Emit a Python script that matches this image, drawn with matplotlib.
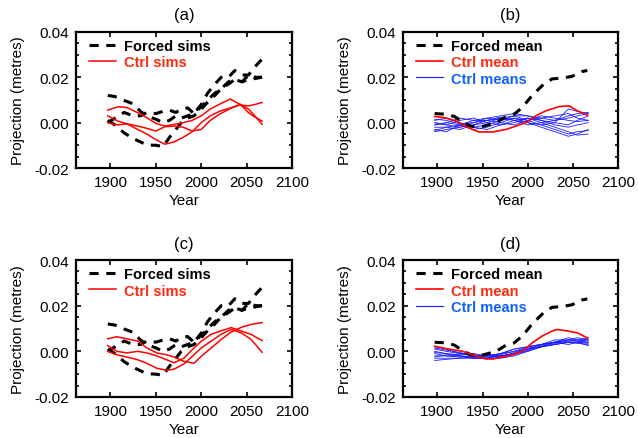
import numpy as np
import matplotlib.pyplot as plt
from matplotlib.lines import Line2D
from matplotlib.ticker import MultipleLocator, FormatStrFormatter

plt.rcParams['font.family'] = ['Liberation Sans', 'DejaVu Sans']
plt.rcParams['font.size'] = 10

# --- forced simulations (same in a and c) ---
forced_yr = [1897, 1905, 1915, 1925, 1933, 1940, 1950, 1958, 1965, 1972, 1978, 1985,
             1992, 2000, 2007, 2015, 2022, 2030, 2037, 2045, 2052, 2060, 2067]
forced_1 = [0.012, 0.0115, 0.0098, 0.0083, 0.005, 0.003, 0.0015, 0.000, 0.001, 0.003,
            0.002, 0.003, 0.004, 0.008, 0.013, 0.017, 0.020, 0.020, 0.023, 0.021, 0.021,
            0.025, 0.028]
forced_2 = [0.000, 0.002, 0.0045, 0.003, 0.003, 0.0045, 0.004, 0.005, 0.0055, 0.0045,
            0.006, 0.0065, 0.004, 0.007, 0.010, 0.013, 0.015, 0.018, 0.019, 0.018, 0.019,
            0.0195, 0.020]
forced_3 = [0.001, -0.001, -0.0045, -0.007, -0.0085, -0.0098, -0.010, -0.0105, -0.0065,
            -0.003, 0.000, 0.002, 0.003, 0.006, 0.009, 0.012, 0.015, 0.017, 0.019, 0.018,
            0.021, 0.020, 0.020]

# --- control simulations, panel a ---
ctrl_a_yr = [1897, 1908, 1918, 1930, 1940, 1950, 1960, 1970, 1980, 1990, 2000, 2010,
             2020, 2032, 2043, 2052, 2059, 2067]
ctrl_a_1 = [0.0055, 0.007, 0.0067, 0.0044, 0.0022, -0.0003, -0.0015, -0.0008, 0.000,
            0.001, 0.003, 0.006, 0.0081, 0.0104, 0.008, 0.006, 0.003, -0.0007]
ctrl_a_2 = [0.000, -0.001, -0.0005, -0.0015, -0.0025, -0.0037, -0.0018, -0.0015, -0.002,
            -0.0037, -0.003, 0.001, 0.0037, 0.0062, 0.0081, 0.0044, 0.0025, 0.0007]
ctrl_a_3 = [0.003, 0.0007, -0.0005, -0.003, -0.005, -0.0075, -0.0095, -0.0085, -0.0065,
            -0.004, 0.000, 0.003, 0.005, 0.0065, 0.0078, 0.0074, 0.008, 0.0089]

# --- control simulations, panel c ---
ctrl_c_yr = [1897, 1907, 1918, 1930, 1940, 1951, 1962, 1970, 1981, 1992, 2000, 2011,
             2022, 2033, 2044, 2055, 2067]
ctrl_c_1 = [0.0055, 0.0064, 0.0055, 0.0045, 0.0015, -0.0007, -0.0015, -0.0025, -0.0044,
            -0.0052, -0.0022, 0.0015, 0.0052, 0.0085, 0.0105, 0.0118, 0.0126]
ctrl_c_2 = [0.0025, 0.000, -0.0007, 0.000, -0.0007, -0.002, -0.0037, -0.005, -0.003,
            0.0015, 0.0044, 0.0075, 0.009, 0.0104, 0.0089, 0.0074, 0.0047]
ctrl_c_3 = [0.000, -0.0015, -0.0025, -0.0037, -0.0052, -0.0074, -0.0083, -0.0078, -0.0055,
            -0.0015, 0.0015, 0.0045, 0.0075, 0.0096, 0.0081, 0.0052, -0.0004]

# --- ensemble means ---
forced_mean_yr = [1897, 1910, 1919, 1928, 1937, 1946, 1954, 1965, 1976, 1985, 1994,
                  2005, 2016, 2027, 2038, 2049, 2060, 2066]
forced_mean = [0.004, 0.0037, 0.0027, 0.0003, -0.0015, -0.002, -0.0012, 0.000, 0.0027,
               0.0037, 0.0067, 0.012, 0.0163, 0.0193, 0.0196, 0.0204, 0.0225, 0.023]

ctrl_mean_b_yr = [1897, 1908, 1921, 1934, 1946, 1961, 1976, 1987, 1998, 2009, 2020, 2035,
                  2046, 2055, 2066]
ctrl_mean_b = [0.0027, 0.0022, 0.0007, -0.0022, -0.0041, -0.0041, -0.003, -0.0015, 0.000,
               0.003, 0.0052, 0.0071, 0.0074, 0.0052, 0.0033]

ctrl_mean_d_yr = [1897, 1906, 1917, 1928, 1939, 1950, 1961, 1972, 1983, 1994, 2005, 2016,
                  2027, 2033, 2044, 2055, 2066]
ctrl_mean_d = [0.0022, 0.0015, 0.0007, 0.000, -0.0015, -0.003, -0.0034, -0.0025, -0.0015,
               0.000, 0.0037, 0.0067, 0.0089, 0.0096, 0.0089, 0.0081, 0.0059]

# --- individual control means (blue) ---
means_yr = [1897, 1910, 1925, 1940, 1955, 1970, 1985, 2000, 2015, 2030, 2045, 2055, 2067]
means_b = [
    [0.0015, 0.001, -0.0005, 0.000, 0.002, 0.003, 0.004, 0.003, 0.002, 0.001, 0.002, 0.003, 0.004],
    [-0.001, 0.000, 0.002, 0.001, 0.001, 0.002, 0.001, 0.000, -0.001, 0.000, 0.006, 0.005, 0.004],
    [-0.004, -0.003, -0.002, 0.000, 0.001, 0.000, -0.001, 0.001, 0.003, 0.002, 0.001, 0.0005, 0.001],
    [-0.003, -0.004, -0.001, -0.002, -0.001, 0.001, 0.002, 0.000, -0.002, -0.004, -0.006, -0.005, -0.003],
    [0.000, -0.001, 0.001, 0.002, 0.000, -0.001, 0.001, 0.002, 0.000, -0.002, -0.004, -0.0055, -0.005],
    [-0.002, -0.002, -0.003, -0.001, 0.000, 0.002, 0.003, 0.001, 0.002, 0.003, 0.004, 0.002, 0.001],
    [0.001, 0.002, 0.000, -0.002, -0.003, -0.001, 0.000, 0.002, 0.001, -0.001, -0.002, -0.001, 0.000],
    [-0.0035, -0.002, -0.001, 0.001, 0.002, 0.001, 0.003, 0.003, 0.001, 0.000, -0.001, 0.001, 0.003],
    [-0.001, 0.000, -0.001, -0.003, -0.002, 0.000, 0.002, 0.001, -0.001, -0.003, -0.005, -0.004, -0.0035],
    [0.000, -0.001, -0.002, -0.001, 0.001, 0.0025, 0.001, -0.001, 0.000, 0.001, 0.003, 0.004, 0.0045],
]
means_d = [
    [0.002, 0.001, -0.001, -0.002, -0.002, -0.001, 0.000, 0.002, 0.003, 0.004, 0.005, 0.005, 0.006],
    [-0.003, -0.003, -0.003, -0.0025, -0.002, -0.001, 0.001, 0.002, 0.003, 0.004, 0.004, 0.004, 0.004],
    [0.000, -0.001, -0.002, -0.003, -0.003, -0.002, -0.001, 0.001, 0.002, 0.003, 0.004, 0.0035, 0.003],
    [-0.004, -0.0035, -0.003, -0.003, -0.0025, -0.002, -0.001, 0.000, 0.002, 0.003, 0.004, 0.004, 0.0025],
    [0.001, 0.000, -0.001, -0.001, -0.002, -0.001, 0.001, 0.002, 0.003, 0.005, 0.005, 0.006, 0.005],
    [-0.002, -0.002, -0.002, -0.003, -0.003, -0.0015, 0.000, 0.001, 0.002, 0.004, 0.006, 0.005, 0.0045],
    [-0.001, -0.002, -0.0025, -0.002, -0.0015, -0.002, -0.001, 0.001, 0.003, 0.004, 0.003, 0.004, 0.0055],
    [0.0015, 0.0005, -0.0005, -0.002, -0.003, -0.003, -0.002, 0.000, 0.002, 0.003, 0.004, 0.004, 0.0035],
    [-0.0025, -0.0015, -0.002, -0.0025, -0.0035, -0.0025, -0.0005, 0.0015, 0.002, 0.0035, 0.0045, 0.005, 0.005],
    [-0.0005, -0.001, -0.0015, -0.0015, -0.002, -0.0025, -0.0015, 0.0005, 0.0025, 0.004, 0.005, 0.0045, 0.004],
]

RED = '#ff0000'
RED_TXT = '#ff2a10'
BLUE = '#1a1aff'
BLUE_TXT = '#1060ff'
DASH = (0, (3, 2.5))

fig = plt.figure(figsize=(6.38, 4.39), dpi=100)
boxes = {
    'a': [0.1191, 0.615, 0.3386, 0.310],
    'b': [0.6317, 0.615, 0.3370, 0.310],
    'c': [0.1191, 0.0934, 0.3386, 0.312],
    'd': [0.6317, 0.0934, 0.3370, 0.312],
}


def setup(ax, letter):
    ax.set_xlim(1862, 2100)
    ax.set_ylim(-0.02, 0.04)
    ax.set_xticks([1900, 1950, 2000, 2050, 2100])
    ax.set_yticks([-0.02, 0.00, 0.02, 0.04])
    ax.yaxis.set_minor_locator(MultipleLocator(0.005))
    ax.yaxis.set_major_formatter(FormatStrFormatter('%.2f'))
    ax.tick_params(which='both', direction='in', top=True, right=True,
                   width=1.2, labelsize=11, pad=5)
    ax.tick_params(which='major', length=3.5)
    ax.tick_params(which='minor', length=2)
    for s in ax.spines.values():
        s.set_linewidth(1.6)
    ax.set_xlabel('Year', fontsize=11, labelpad=3)
    ax.set_ylabel('Projection (metres)', fontsize=11, labelpad=7)
    ax.set_title('(' + letter + ')', fontsize=12, pad=9)


def legend(ax, handles, labels, colors):
    leg = ax.legend(handles, labels, loc='upper left', bbox_to_anchor=(0.025, 1.0),
                    frameon=False, handlelength=1.9, handletextpad=0.55,
                    labelspacing=0.15, borderaxespad=0.2, borderpad=0.3,
                    prop={'weight': 'bold', 'size': 10.5})
    for t, c in zip(leg.get_texts(), colors):
        t.set_color(c)


# panels a and c: individual sims
for letter, yr, ctrls in [('a', ctrl_a_yr, [ctrl_a_1, ctrl_a_2, ctrl_a_3]),
                          ('c', ctrl_c_yr, [ctrl_c_1, ctrl_c_2, ctrl_c_3])]:
    ax = fig.add_axes(boxes[letter])
    for f in [forced_1, forced_2, forced_3]:
        ax.plot(forced_yr, f, color='black', lw=2.2, linestyle=DASH)
    for c in ctrls:
        ax.plot(yr, c, color=RED, lw=1.1)
    setup(ax, letter)
    h = [Line2D([], [], color='black', lw=2.2, linestyle=DASH),
         Line2D([], [], color=RED, lw=1.1)]
    legend(ax, h, ['Forced sims', 'Ctrl sims'], ['black', RED_TXT])

# panels b and d: means
for letter, myr, mval, blues in [('b', ctrl_mean_b_yr, ctrl_mean_b, means_b),
                                 ('d', ctrl_mean_d_yr, ctrl_mean_d, means_d)]:
    ax = fig.add_axes(boxes[letter])
    for b in blues:
        ax.plot(means_yr, b, color=BLUE, lw=0.6)
    ax.plot(forced_mean_yr, forced_mean, color='black', lw=2.2, linestyle=DASH)
    ax.plot(myr, mval, color=RED, lw=1.2)
    setup(ax, letter)
    h = [Line2D([], [], color='black', lw=2.2, linestyle=DASH),
         Line2D([], [], color=RED, lw=1.2),
         Line2D([], [], color=BLUE, lw=0.8)]
    legend(ax, h, ['Forced mean', 'Ctrl mean', 'Ctrl means'], ['black', RED_TXT, BLUE_TXT])

fig.savefig('out.png', dpi=100)
